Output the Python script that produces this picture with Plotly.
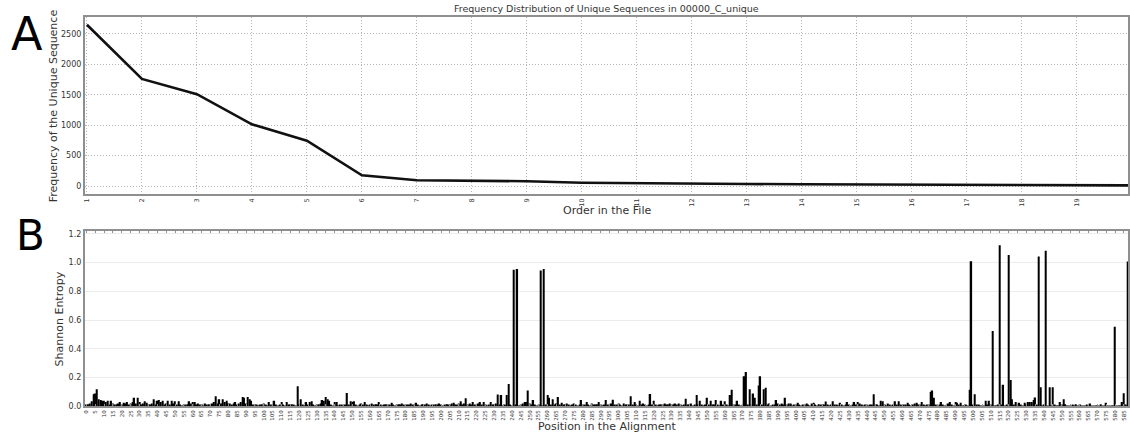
import plotly.graph_objects as go

# ---------------- Data ----------------
order = list(range(1, 21))
frequency = [2650, 1760, 1510, 1015, 745, 178, 97, 88, 80, 55,
             45, 38, 35, 30, 28, 25, 22, 20, 15, 12]

entropy = [
    0.01, 0.015, 0.02, 0.035, 0.085, 0.09, 0.12, 0.05, 0.045, 0.04,      # 0
    0.04, 0.03, 0.04, 0.01, 0.04, 0.02, 0.01, 0.015, 0.02, 0.03,         # 10
    0.01, 0.025, 0.02, 0.03, 0.01, 0.02, 0.03, 0.06, 0.02, 0.06,         # 20
    0.03, 0.01, 0.02, 0.035, 0.025, 0.01, 0.01, 0.02, 0.05, 0.01,        # 30
    0.04, 0.045, 0.03, 0.04, 0.01, 0.02, 0.04, 0.01, 0.04, 0.02,         # 40
    0.035, 0.01, 0.035, 0.01, 0.005, 0.01, 0.01, 0.015, 0.035, 0.02,     # 50
    0.03, 0.03, 0.01, 0.02, 0.01, 0.015, 0.005, 0.02, 0.01, 0.015,       # 60
    0.01, 0.02, 0.03, 0.07, 0.02, 0.05, 0.02, 0.05, 0.03, 0.04,          # 70
    0.02, 0.02, 0.01, 0.02, 0.03, 0.01, 0.02, 0.03, 0.065, 0.06,         # 80
    0.02, 0.065, 0.05, 0.04, 0.01, 0.015, 0.01, 0.005, 0.01, 0.015,      # 90
    0.02, 0.01, 0.005, 0.03, 0.01, 0.01, 0.04, 0.01, 0.005, 0.01,        # 100
    0.03, 0.01, 0.005, 0.03, 0.01, 0.01, 0.015, 0.01, 0.005, 0.14,       # 110
    0.01, 0.05, 0.01, 0.005, 0.03, 0.01, 0.03, 0.035, 0.01, 0.005,       # 120
    0.01, 0.015, 0.02, 0.045, 0.04, 0.065, 0.05, 0.04, 0.01, 0.005,      # 130
    0.03, 0.03, 0.005, 0.01, 0.01, 0.005, 0.01, 0.094, 0.01, 0.035,      # 140
    0.03, 0.035, 0.01, 0.005, 0.01, 0.02, 0.01, 0.03, 0.01, 0.005,       # 150
    0.01, 0.02, 0.01, 0.015, 0.01, 0.03, 0.01, 0.005, 0.01, 0.015,       # 160
    0.01, 0.01, 0.025, 0.01, 0.005, 0.01, 0.015, 0.01, 0.02, 0.01,       # 170
    0.005, 0.01, 0.01, 0.02, 0.01, 0.01, 0.025, 0.01, 0.005, 0.01,       # 180
    0.015, 0.01, 0.02, 0.01, 0.005, 0.01, 0.01, 0.015, 0.01, 0.02,       # 190
    0.01, 0.005, 0.01, 0.015, 0.01, 0.01, 0.02, 0.025, 0.01, 0.01,       # 200
    0.02, 0.035, 0.01, 0.02, 0.057, 0.01, 0.02, 0.01, 0.03, 0.01,        # 210
    0.01, 0.02, 0.03, 0.01, 0.03, 0.01, 0.005, 0.01, 0.03, 0.01,         # 220
    0.01, 0.02, 0.083, 0.01, 0.08, 0.005, 0.01, 0.08, 0.155, 0.01,       # 230
    0.005, 0.95, 0.01, 0.955, 0.005, 0.01, 0.02, 0.03, 0.03, 0.11,       # 240
    0.02, 0.01, 0.045, 0.01, 0.005, 0.01, 0.945, 0.005, 0.955, 0.01,     # 250
    0.08, 0.06, 0.01, 0.05, 0.01, 0.02, 0.065, 0.01, 0.025, 0.01,        # 260
    0.01, 0.02, 0.01, 0.005, 0.01, 0.02, 0.01, 0.005, 0.01, 0.045,       # 270
    0.01, 0.01, 0.03, 0.01, 0.005, 0.02, 0.01, 0.01, 0.015, 0.03,        # 280
    0.01, 0.005, 0.01, 0.045, 0.01, 0.01, 0.02, 0.046, 0.01, 0.01,       # 290
    0.02, 0.01, 0.005, 0.02, 0.01, 0.01, 0.01, 0.07, 0.01, 0.03,         # 300
    0.01, 0.005, 0.04, 0.01, 0.02, 0.01, 0.005, 0.01, 0.087, 0.01,       # 310
    0.04, 0.01, 0.005, 0.01, 0.015, 0.01, 0.02, 0.01, 0.015, 0.02,       # 320
    0.01, 0.015, 0.02, 0.01, 0.02, 0.01, 0.005, 0.01, 0.053, 0.01,       # 330
    0.01, 0.02, 0.005, 0.01, 0.08, 0.01, 0.04, 0.01, 0.005, 0.01,        # 340
    0.06, 0.01, 0.04, 0.01, 0.01, 0.045, 0.01, 0.005, 0.04, 0.01,        # 350
    0.035, 0.01, 0.005, 0.08, 0.115, 0.01, 0.01, 0.04, 0.01, 0.005,      # 360
    0.01, 0.21, 0.24, 0.01, 0.12, 0.01, 0.09, 0.06, 0.01, 0.145,         # 370
    0.21, 0.01, 0.12, 0.13, 0.01, 0.02, 0.005, 0.01, 0.01, 0.045,        # 380
    0.02, 0.01, 0.02, 0.01, 0.06, 0.01, 0.02, 0.02, 0.005, 0.01,         # 390
    0.01, 0.025, 0.01, 0.005, 0.01, 0.01, 0.02, 0.01, 0.005, 0.02,       # 400
    0.025, 0.01, 0.005, 0.015, 0.01, 0.01, 0.01, 0.034, 0.01, 0.005,     # 410
    0.01, 0.035, 0.01, 0.01, 0.005, 0.025, 0.01, 0.005, 0.01, 0.03,      # 420
    0.01, 0.005, 0.01, 0.03, 0.01, 0.03, 0.02, 0.01, 0.005, 0.01,        # 430
    0.01, 0.005, 0.01, 0.01, 0.085, 0.01, 0.01, 0.005, 0.04, 0.035,      # 440
    0.01, 0.005, 0.02, 0.01, 0.005, 0.01, 0.035, 0.01, 0.035, 0.01,      # 450
    0.005, 0.01, 0.01, 0.025, 0.01, 0.005, 0.01, 0.02, 0.025, 0.01,      # 460
    0.01, 0.03, 0.01, 0.005, 0.01, 0.01, 0.10, 0.11, 0.06, 0.01,         # 470
    0.005, 0.01, 0.03, 0.01, 0.005, 0.01, 0.02, 0.03, 0.01, 0.005,       # 480
    0.03, 0.025, 0.01, 0.025, 0.005, 0.005, 0.01, 0.005, 0.115, 1.01,    # 490
    0.01, 0.085, 0.01, 0.01, 0.005, 0.005, 0.005, 0.04, 0.01, 0.04,      # 500
    0.01, 0.524, 0.005, 0.005, 0.01, 1.12, 0.01, 0.15, 0.005, 0.01,      # 510
    1.053, 0.184, 0.05, 0.01, 0.03, 0.005, 0.025, 0.01, 0.005, 0.025,    # 520
    0.01, 0.03, 0.03, 0.03, 0.045, 0.062, 0.01, 1.043, 0.133, 0.005,     # 530
    0.01, 1.083, 0.005, 0.133, 0.005, 0.133, 0.01, 0.005, 0.005, 0.03,   # 540
    0.01, 0.05, 0.015, 0.005, 0.005, 0.005, 0.01, 0.005, 0.015, 0.005,   # 550
    0.015, 0.005, 0.005, 0.005, 0.01, 0.005, 0.02, 0.005, 0.005, 0.005,  # 560
    0.005, 0.005, 0.015, 0.005, 0.005, 0.025, 0.005, 0.005, 0.005, 0.005,  # 570
    0.554, 0.005, 0.005, 0.005, 0.03, 0.092, 0.01, 1.007,                # 580
]
positions = list(range(len(entropy)))

top_xticks = list(range(1, 21))
top_yticks = [0, 500, 1000, 1500, 2000, 2500]
bot_xticks = list(range(0, 590, 5))
bot_xlabels = [str(v) for v in bot_xticks]
bot_yticks = [0.0, 0.2, 0.4, 0.6, 0.8, 1.0, 1.2]

# ---------------- Layout helpers ----------------
W, H = 1130, 440
def px_x(x):
    return x / W
def px_y(y):
    return 1 - y / H

TXT = "#333333"
FRAME = "#8f8f8f"
GRID_DOT = "1px,2px"

fig = go.Figure()

fig.add_trace(go.Scatter(
    x=order, y=frequency, mode="lines",
    line=dict(color="#111111", width=2.6),
    xaxis="x", yaxis="y", showlegend=False,
))

fig.add_trace(go.Bar(
    x=positions, y=entropy,
    marker=dict(color="#000000", line=dict(width=0)),
    width=0.8,
    xaxis="x2", yaxis="y2", showlegend=False,
))

fig.update_layout(
    width=W, height=H,
    margin=dict(l=0, r=0, t=0, b=0),
    paper_bgcolor="white", plot_bgcolor="white",
    font=dict(family="DejaVu Sans", color=TXT),
    xaxis=dict(
        domain=[px_x(83), 1.0], range=[0.96, 19.93],
        tickmode="array", tickvals=top_xticks,
        tickangle=-90, tickfont=dict(size=6.5, color=TXT),
        showgrid=True, gridcolor="#b5b5b5", griddash=GRID_DOT, gridwidth=1,
        showline=True, linecolor=FRAME, linewidth=1.5, mirror=True,
        ticks="", zeroline=False, anchor="y",
    ),
    yaxis=dict(
        domain=[px_y(195.7), px_y(16)], range=[-130, 2781],
        tickmode="array", tickvals=top_yticks,
        tickfont=dict(size=8, color=TXT),
        showgrid=True, gridcolor="#b5b5b5", griddash=GRID_DOT, gridwidth=1,
        showline=True, linecolor=FRAME, linewidth=1.5, mirror=True,
        ticks="", zeroline=False, anchor="x",
    ),
    xaxis2=dict(
        domain=[px_x(83), 1.0], range=[-0.95, 587.3],
        tickmode="array", tickvals=bot_xticks, ticktext=bot_xlabels,
        tickangle=-90, tickfont=dict(size=5.5, color=TXT),
        showgrid=False,
        showline=True, linecolor=FRAME, linewidth=1.5, mirror="ticks",
        ticks="inside", ticklen=3, tickcolor=FRAME, tickwidth=1,
        zeroline=False, anchor="y2",
    ),
    yaxis2=dict(
        domain=[px_y(411), px_y(232.7)], range=[0, 1.223],
        tickmode="array", tickvals=bot_yticks, tickformat=".1f",
        tickfont=dict(size=8, color=TXT),
        showgrid=True, gridcolor="#ececec", gridwidth=1,
        showline=True, linecolor=FRAME, linewidth=1.5, mirror=True,
        ticks="", zeroline=False, anchor="x2",
    ),
    bargap=0.2,
)

annotations = [
    dict(text="Frequency Distribution of Unique Sequences in 00000_C_unique",
         x=px_x(607), y=px_y(8), font=dict(size=9.5, color=TXT)),
    dict(text="Frequency of the Unique Sequence", x=px_x(52), y=px_y(106),
         textangle=-90, font=dict(size=11, color=TXT)),
    dict(text="Order in the File", x=px_x(607), y=px_y(212),
         font=dict(size=11, color=TXT)),
    dict(text="Shannon Entropy", x=px_x(58), y=px_y(322),
         textangle=-90, font=dict(size=11, color=TXT)),
    dict(text="Position in the Alignment", x=px_x(607), y=px_y(431),
         font=dict(size=11, color=TXT)),
    dict(text="A", x=px_x(25), y=px_y(33), font=dict(size=46, color="black")),
    dict(text="B", x=px_x(29), y=px_y(238), font=dict(size=42, color="black")),
]
for a in annotations:
    a.update(xref="paper", yref="paper", showarrow=False,
             xanchor="center", yanchor="middle")
fig.update_layout(annotations=annotations)

# remove the browser's default page margin so the figure starts at the corner
fig.write_html(
    "out.html",
    config={"displayModeBar": False},
    post_script="document.documentElement.style.margin='0';"
                "document.body.style.margin='0';"
                "document.body.style.overflow='hidden';",
)
